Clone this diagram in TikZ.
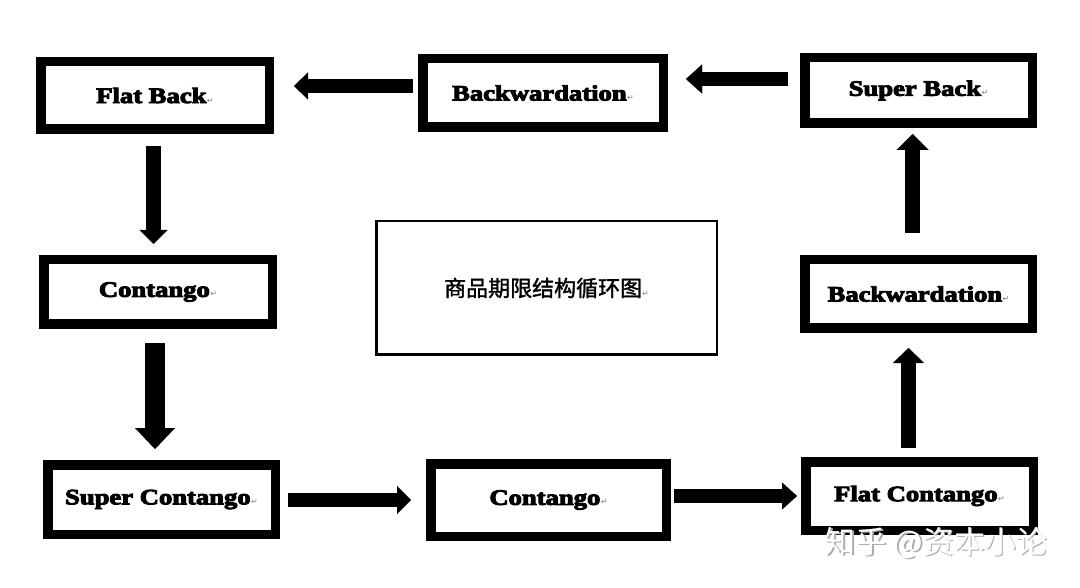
\documentclass[tikz,border=0pt]{standalone}
\usepackage{fontspec}
\usetikzlibrary{arrows.meta,calc}
\setmainfont{Liberation Serif}
\newfontfamily\heavyfont{Liberation Serif}[FakeBold=4]
\newfontfamily\cjkfont{Noto Sans CJK SC}[FakeBold=1.5]
\newfontfamily\wmfont{Noto Sans CJK SC}
\newfontfamily\symfont{DejaVu Sans}
\newcommand\parmark{{\symfont\fontsize{8}{9}\selectfont\color{gray}↵}}
\newcommand\lbl[1]{\scalebox{1.21}[1]{\heavyfont\bfseries\fontsize{22}{26}\selectfont #1}\kern0.5pt\parmark}
\begin{document}
\begin{tikzpicture}[x=1pt,y=-1pt,
  tbox/.style 2 args={draw, line width=9.5pt, inner sep=0pt, minimum width=#1, minimum height=#2, fill=white},
  conn/.style n args={3}{line width=#1, -{Triangle[length=#3, width=#2, line width=0.01pt]}}]
\useasboundingbox[fill=white] (0,0) rectangle (1080,588);
% boxes
\node[tbox={228.5pt}{67.5pt}] (fb)  at (155,95.5)  {\lbl{Flat Back}};
\node[tbox={240.5pt}{68.5pt}] (bw1) at (543,93)    {\lbl{Backwardation}};
\node[tbox={227.5pt}{65.5pt}] (sb)  at (918.5,90.5){\lbl{Super Back}};
\node[tbox={228.5pt}{64.5pt}] (ct1) at (158,292)   {\lbl{Contango}};
\node[tbox={227.5pt}{68.5pt}] (bw2) at (918.5,294) {\lbl{Backwardation}};
\node[tbox={227.5pt}{69.5pt}] (sc)  at (161.5,499.5){\lbl{Super Contango}};
\node[tbox={235.5pt}{72.5pt}] (ct2) at (548.5,500) {\lbl{Contango}};
\node[tbox={227.5pt}{68.5pt}] (fc)  at (919.5,496) {\lbl{Flat Contango}};
\node[draw, line width=2.5pt, inner sep=0pt, minimum width=340.5pt, minimum height=133.5pt] (ctr) at (546.5,288)
  {{\cjkfont\fontsize{22}{26}\selectfont 商品期限结构循环图}\parmark};
% connectors
\draw[conn={14pt}{27pt}{14pt}] ($(bw1.west)+(-5,-7)$) -- ($(fb.east)+(20,-9.5)$);
\draw[conn={14pt}{29pt}{16pt}] ($(sb.west)+(-12,-11.5)$) -- ($(bw1.east)+(18,-14)$);
\draw[conn={15pt}{28pt}{14pt}] ($(fb.south)+(-1.5,12)$) -- ($(ct1.north)+(-4.5,-11)$);
\draw[conn={20pt}{40pt}{21pt}] ($(ct1.south)+(-3,14)$) -- ($(sc.north)+(-6.5,-11)$);
\draw[conn={14pt}{28pt}{14pt}] ($(sc.east)+(8,0.5)$) -- ($(ct2.west)+(-15,0)$);
\draw[conn={14pt}{27pt}{15pt}] ($(ct2.east)+(3,-4)$) -- ($(fc.west)+(-4,0)$);
\draw[conn={15pt}{31pt}{15pt}] ($(fc.north)+(-11,-9)$) -- ($(bw2.south)+(-10,15)$);
\draw[conn={15pt}{32pt}{16pt}] ($(bw2.north)+(-6,-22)$) -- ($(sb.south)+(-6,6)$);
% watermark
\node[font=\wmfont\fontsize{31}{33}\selectfont, text=gray!65] (wms) at (937.2,544.2) {知乎 @资本小论};
\node[font=\wmfont\fontsize{31}{33}\selectfont, text=white] (wm) at (936,543) {知乎 @资本小论};
\end{tikzpicture}
\end{document}
